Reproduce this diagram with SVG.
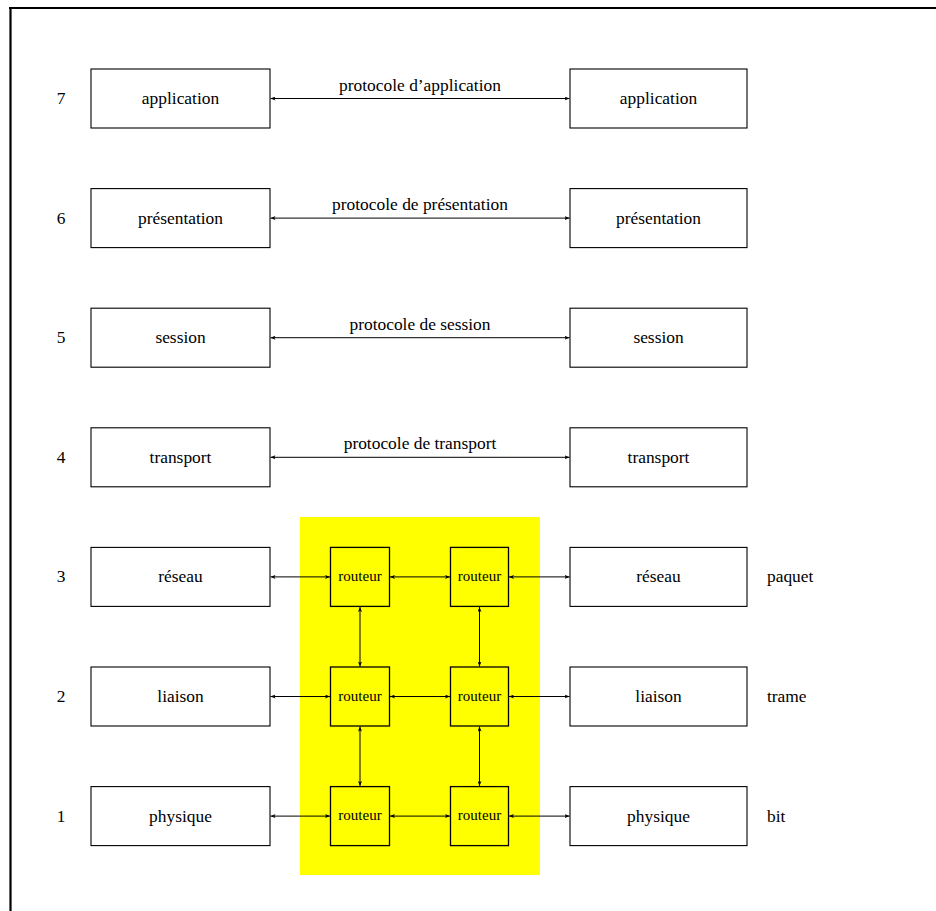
<svg xmlns="http://www.w3.org/2000/svg" width="936" height="911" viewBox="0 0 936 911">
<defs>
<marker id="a" viewBox="0 0 5 4" refX="5" refY="2" markerWidth="5" markerHeight="4" orient="auto-start-reverse" markerUnits="userSpaceOnUse">
<path d="M0,0 L5,2 L0,4 L1.2,2 z" fill="#000"/>
</marker>
<style>
.b{fill:#fff;stroke:#000;stroke-width:1.1}
.r{fill:#ffff00;stroke:#000;stroke-width:1.3}
text{font-family:'Liberation Serif','DejaVu Serif',serif;fill:#000}
.t{font-size:17.4px;text-anchor:middle}
.s{font-size:15px;text-anchor:middle}
.l{font-size:17.4px}
.c line{stroke:#000;stroke-width:1;marker-start:url(#a);marker-end:url(#a)}
</style>
</defs>
<rect width="936" height="911" fill="#fff"/>
<path d="M9,8 H936 M10.5,7 V911" stroke="#000" stroke-width="2.2" fill="none"/>
<rect id="zone" x="300" y="517" width="240" height="358" fill="#ffff00"/>

<g id="n7"><text class="t" x="61" y="104">7</text><rect class="b" x="91" y="69" width="179" height="59"/><text class="t" x="180.5" y="104">application</text><rect class="b" x="570" y="69" width="177" height="59"/><text class="t" x="658.5" y="104">application</text></g>
<g id="n6"><text class="t" x="61" y="223.6">6</text><rect class="b" x="91" y="188.6" width="179" height="59"/><text class="t" x="180.5" y="223.6">présentation</text><rect class="b" x="570" y="188.6" width="177" height="59"/><text class="t" x="658.5" y="223.6">présentation</text></g>
<g id="n5"><text class="t" x="61" y="343.2">5</text><rect class="b" x="91" y="308.2" width="179" height="59"/><text class="t" x="180.5" y="343.2">session</text><rect class="b" x="570" y="308.2" width="177" height="59"/><text class="t" x="658.5" y="343.2">session</text></g>
<g id="n4"><text class="t" x="61" y="462.8">4</text><rect class="b" x="91" y="427.8" width="179" height="59"/><text class="t" x="180.5" y="462.8">transport</text><rect class="b" x="570" y="427.8" width="177" height="59"/><text class="t" x="658.5" y="462.8">transport</text></g>
<g id="n3"><text class="t" x="61" y="582.4">3</text><rect class="b" x="91" y="547.4" width="179" height="59"/><text class="t" x="180.5" y="582.4">réseau</text><rect class="b" x="570" y="547.4" width="177" height="59"/><text class="t" x="658.5" y="582.4">réseau</text><text class="l" x="767" y="582.4">paquet</text></g>
<g id="n2"><text class="t" x="61" y="702">2</text><rect class="b" x="91" y="667" width="179" height="59"/><text class="t" x="180.5" y="702">liaison</text><rect class="b" x="570" y="667" width="177" height="59"/><text class="t" x="658.5" y="702">liaison</text><text class="l" x="767" y="702">trame</text></g>
<g id="n1"><text class="t" x="61" y="821.6">1</text><rect class="b" x="91" y="786.6" width="179" height="59"/><text class="t" x="180.5" y="821.6">physique</text><rect class="b" x="570" y="786.6" width="177" height="59"/><text class="t" x="658.5" y="821.6">physique</text><text class="l" x="767" y="821.6">bit</text></g>

<g id="r31"><rect class="r" x="330.5" y="547.4" width="59" height="59"/><text class="s" x="360" y="581.2">routeur</text></g>
<g id="r32"><rect class="r" x="450.5" y="547.4" width="58" height="59"/><text class="s" x="479.5" y="581.2">routeur</text></g>
<g id="r21"><rect class="r" x="330.5" y="667" width="59" height="59"/><text class="s" x="360" y="700.8">routeur</text></g>
<g id="r22"><rect class="r" x="450.5" y="667" width="58" height="59"/><text class="s" x="479.5" y="700.8">routeur</text></g>
<g id="r11"><rect class="r" x="330.5" y="786.6" width="59" height="59"/><text class="s" x="360" y="820.4">routeur</text></g>
<g id="r12"><rect class="r" x="450.5" y="786.6" width="58" height="59"/><text class="s" x="479.5" y="820.4">routeur</text></g>

<g id="connectors" class="c">
<line x1="270.5" y1="98.5" x2="569.5" y2="98.5"/>
<line x1="270.5" y1="218.1" x2="569.5" y2="218.1"/>
<line x1="270.5" y1="337.7" x2="569.5" y2="337.7"/>
<line x1="270.5" y1="457.3" x2="569.5" y2="457.3"/>
<line x1="270.5" y1="576.9" x2="330" y2="576.9"/>
<line x1="390" y1="576.9" x2="450" y2="576.9"/>
<line x1="509" y1="576.9" x2="569.5" y2="576.9"/>
<line x1="270.5" y1="696.5" x2="330" y2="696.5"/>
<line x1="390" y1="696.5" x2="450" y2="696.5"/>
<line x1="509" y1="696.5" x2="569.5" y2="696.5"/>
<line x1="270.5" y1="816.1" x2="330" y2="816.1"/>
<line x1="390" y1="816.1" x2="450" y2="816.1"/>
<line x1="509" y1="816.1" x2="569.5" y2="816.1"/>
<line x1="360" y1="607" x2="360" y2="666.5"/>
<line x1="479.5" y1="607" x2="479.5" y2="666.5"/>
<line x1="360" y1="726.5" x2="360" y2="786"/>
<line x1="479.5" y1="726.5" x2="479.5" y2="786"/>
</g>
<g id="labels">
<text class="t" x="420" y="90.5">protocole d’application</text>
<text class="t" x="420" y="210.1">protocole de présentation</text>
<text class="t" x="420" y="329.7">protocole de session</text>
<text class="t" x="420" y="449.3">protocole de transport</text>
</g>
</svg>
